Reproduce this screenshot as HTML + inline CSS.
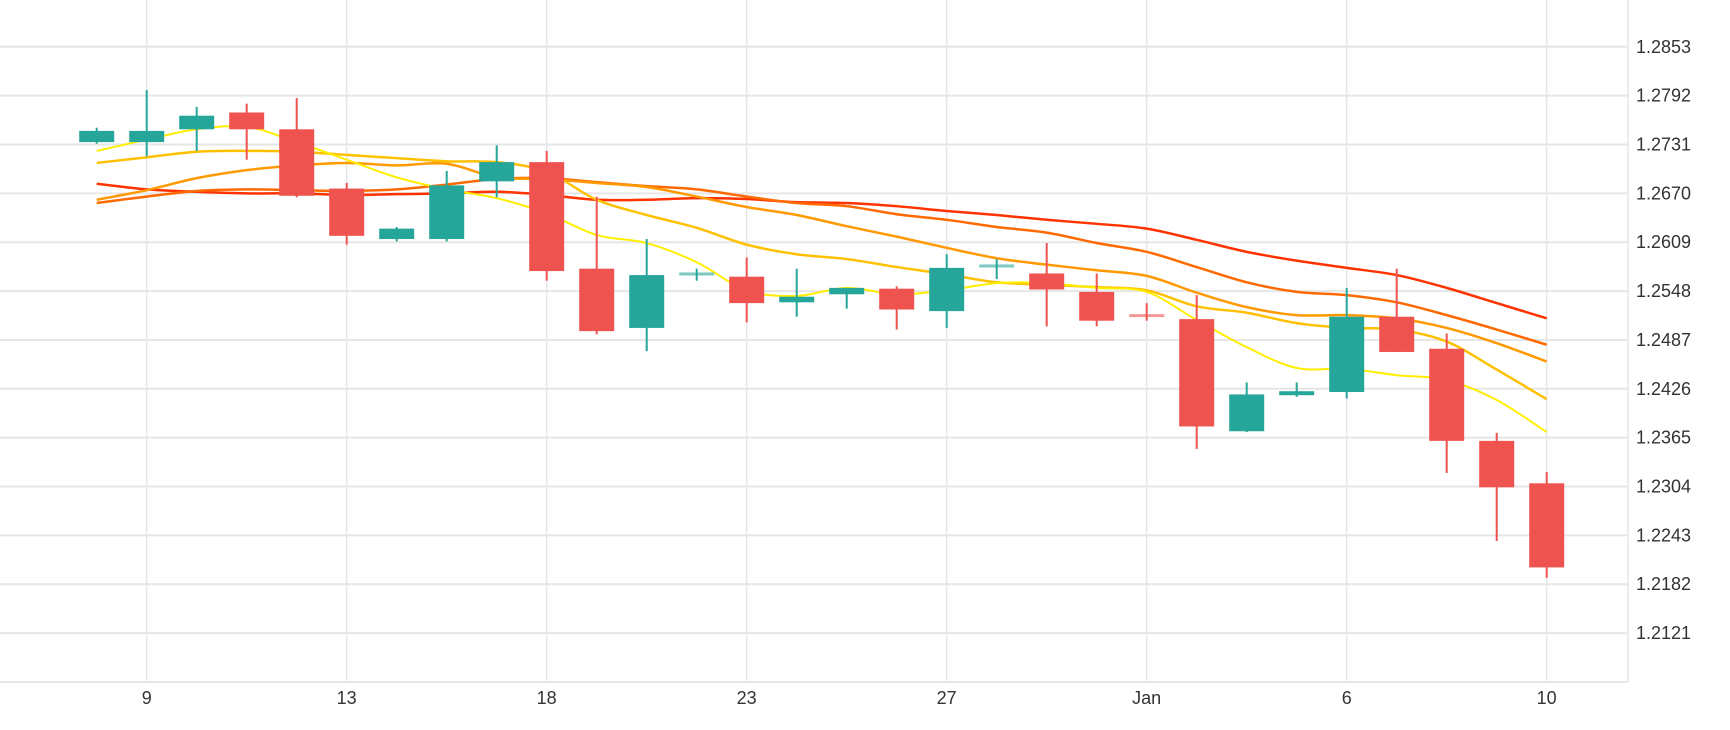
<!DOCTYPE html>
<html><head><meta charset="utf-8"><style>
html,body{margin:0;padding:0;background:#fff}
svg{display:block;font-family:"Liberation Sans",sans-serif}
</style></head><body>
<svg id="chart" width="1730" height="730" viewBox="0 0 1730 730" xmlns="http://www.w3.org/2000/svg">
<g id="grid"></g>
<g id="mas"></g>
<g id="candles"></g>
<g id="yaxis"></g>
<g id="xaxis"></g>
</svg>
<script>
const opens  = [1.2734,1.2734,1.2750,1.2771,1.2750,1.2676,1.2613,1.2613,1.2685,1.2709,1.2576,1.2502,1.2568,1.2566,1.2534,1.2544,1.2551,1.2523,1.2578,1.2570,1.2547,1.2518,1.2513,1.2373,1.2418,1.2422,1.2516,1.2476,1.2361,1.2308];
const highs  = [1.2752,1.2799,1.2778,1.2782,1.2789,1.2683,1.2628,1.2698,1.2730,1.2723,1.2666,1.2613,1.2576,1.2590,1.2576,1.2552,1.2554,1.2594,1.2588,1.2608,1.2570,1.2533,1.2543,1.2434,1.2434,1.2552,1.2576,1.2495,1.2371,1.2322];
const lows   = [1.2732,1.2716,1.2723,1.2712,1.2665,1.2606,1.2610,1.2610,1.2665,1.2561,1.2494,1.2473,1.2561,1.2509,1.2516,1.2526,1.2500,1.2502,1.2563,1.2504,1.2504,1.2511,1.2351,1.2372,1.2416,1.2414,1.2472,1.2321,1.2236,1.2190];
const closes = [1.2748,1.2748,1.2767,1.2750,1.2667,1.2617,1.2626,1.2680,1.2709,1.2573,1.2498,1.2568,1.2570,1.2533,1.2541,1.2552,1.2525,1.2577,1.2580,1.2550,1.2511,1.2516,1.2379,1.2419,1.2423,1.2516,1.2472,1.2361,1.2303,1.2203];
const maYellow = [1.2723,1.2737,1.2750,1.2753,1.2734,1.2712,1.2690,1.2675,1.2664,1.2645,1.2618,1.2608,1.2584,1.2549,1.2542,1.2552,1.2544,1.2549,1.2558,1.2558,1.2552,1.2547,1.2512,1.2478,1.2452,1.2451,1.2443,1.2437,1.2412,1.2372];
const maGold   = [1.2708,1.2715,1.2722,1.2723,1.2722,1.2718,1.2714,1.2710,1.2709,1.2697,1.2662,1.2643,1.2627,1.2606,1.2594,1.2588,1.2578,1.2569,1.2559,1.2556,1.2553,1.2549,1.2529,1.2521,1.2508,1.2502,1.2500,1.2485,1.2450,1.2413];
const maOrange = [1.2662,1.2674,1.2689,1.2699,1.2705,1.2708,1.2705,1.2707,1.2690,1.2688,1.2683,1.2678,1.2666,1.2653,1.2643,1.2629,1.2616,1.2602,1.2589,1.2581,1.2574,1.2567,1.2546,1.2528,1.2518,1.2518,1.2514,1.2502,1.2483,1.2460];
const maDarkOrange = [1.2658,1.2666,1.2673,1.2675,1.2674,1.2673,1.2675,1.2681,1.2688,1.2689,1.2684,1.2679,1.2675,1.2666,1.2658,1.2654,1.2644,1.2637,1.2628,1.2621,1.2608,1.2597,1.2578,1.2559,1.2547,1.2543,1.2534,1.2518,1.2500,1.2481];
const maRed    = [1.2682,1.2675,1.2672,1.2670,1.2670,1.2668,1.2669,1.2670,1.2672,1.2668,1.2662,1.2662,1.2664,1.2663,1.2659,1.2658,1.2654,1.2648,1.2643,1.2637,1.2632,1.2626,1.2612,1.2597,1.2586,1.2577,1.2568,1.2552,1.2533,1.2514];
const yTicks = [1.2853,1.2792,1.2731,1.2670,1.2609,1.2548,1.2487,1.2426,1.2365,1.2304,1.2243,1.2182,1.2121];
const xTickIdx = [1,5,9,13,17,21,25,29];
const xTickLabels = ["9","13","18","23","27","Jan","6","10"];

const NS="http://www.w3.org/2000/svg";
const Y0=46.8, Y1=633.1, P0=1.2853, P1=1.2121;
function y(p){return Y0+(P0-p)*(Y1-Y0)/(P0-P1);}
function x(i){return 96.7+i*50;}
function mk(tag,attrs,parent){const e=document.createElementNS(NS,tag);for(const k in attrs)e.setAttribute(k,attrs[k]);parent.appendChild(e);return e;}
const grid=document.getElementById('grid');
const PLOT_R=1628, PLOT_B=682;
yTicks.forEach((t)=>{
  const l=mk('line',{x1:0,x2:PLOT_R,y1:y(t),y2:y(t),stroke:'#e6e6e6','stroke-width':2},grid);
  
  
});
xTickIdx.forEach((i)=>{
  const l=mk('line',{x1:x(i),x2:x(i),y1:0,y2:PLOT_B,stroke:'#e6e6e6','stroke-width':1.5},grid);
  
  
});
const fr=mk('line',{x1:PLOT_R,x2:PLOT_R,y1:0,y2:PLOT_B,stroke:'#e6e6e6','stroke-width':1.5},grid);


const fb=mk('line',{x1:0,x2:PLOT_R,y1:PLOT_B,y2:PLOT_B,stroke:'#e6e6e6','stroke-width':2},grid);



const yax=document.getElementById('yaxis');
yTicks.forEach((t)=>{
  const tx=mk('text',{x:1636,y:y(t)+6,'font-size':18,fill:'#333'},yax);
  tx.textContent=t.toFixed(4);
  
  
});
const xax=document.getElementById('xaxis');
xTickIdx.forEach((i,k)=>{
  const tx=mk('text',{x:x(i),y:704,'font-size':18,fill:'#333','text-anchor':'middle'},xax);
  tx.textContent=xTickLabels[k];
  
  
});

function smoothPath(vals){
  const pts=vals.map((v,i)=>[x(i),y(v)]);
  let d='M'+pts[0][0]+','+pts[0][1];
  for(let i=0;i<pts.length-1;i++){
    const p0=pts[i-1]||pts[i],p1=pts[i],p2=pts[i+1],p3=pts[i+2]||p2;
    const c1=[p1[0]+(p2[0]-p0[0])/6,p1[1]+(p2[1]-p0[1])/6];
    const c2=[p2[0]-(p3[0]-p1[0])/6,p2[1]-(p3[1]-p1[1])/6];
    d+=' C'+c1[0]+','+c1[1]+' '+c2[0]+','+c2[1]+' '+p2[0]+','+p2[1];
  }
  return d;
}
const mas=document.getElementById('mas');
[[maRed,'#ff3300',2.5,'ma-red'],[maDarkOrange,'#ff6a00',2.5,'ma-dark-orange'],[maOrange,'#ff9900',2.5,'ma-orange'],[maGold,'#ffc000',2.5,'ma-gold'],[maYellow,'#ffee00',2,'ma-yellow']].forEach(s=>{
  const p=mk('path',{d:smoothPath(s[0]),fill:'none',stroke:s[1],'stroke-width':s[2]},mas);
  
  
});

const cg=document.getElementById('candles');
const W=35;
opens.forEach((o,i)=>{
  const c=closes[i], up=c>=o, col=up?'#26a69a':'#ef5350';
  const doji=Math.abs(c-o)<0.00025;
  const g=mk('g',{},cg);
  
  
  mk('rect',{x:x(i)-1,y:y(highs[i]),width:2,height:Math.max(1,y(lows[i])-y(highs[i])),fill:col},g);
  const top=y(Math.max(o,c)), h=Math.max(3,y(Math.min(o,c))-top);
  mk('rect',{x:x(i)-W/2,y:doji?top-1:top,width:W,height:h,fill:col,opacity:doji?0.6:1},g);
});
</script>
</body></html>
